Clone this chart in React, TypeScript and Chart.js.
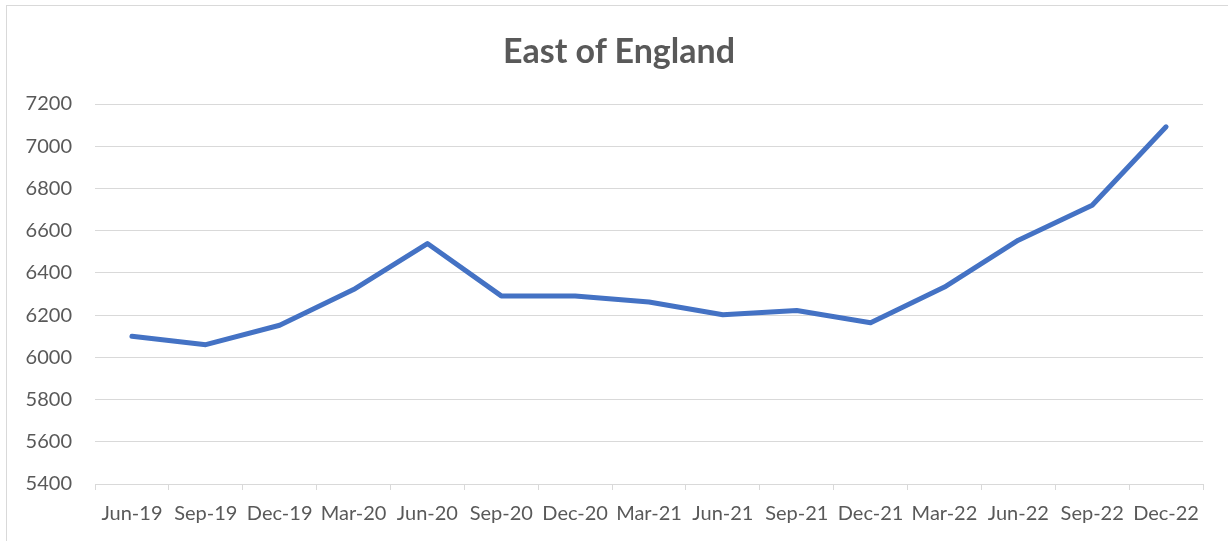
import React, { useEffect, useRef } from "react";
import { Chart, registerables } from "chart.js";

Chart.register(...registerables);

const categories = [
  "Jun-19", "Sep-19", "Dec-19", "Mar-20", "Jun-20", "Sep-20", "Dec-20", "Mar-21",
  "Jun-21", "Sep-21", "Dec-21", "Mar-22", "Jun-22", "Sep-22", "Dec-22",
];
const values = [6100, 6060, 6152, 6321, 6539, 6291, 6290, 6262, 6202, 6222, 6164, 6333, 6555, 6720, 7092];
const titleText = "East of England";
const yMin = 5400;
const yMax = 7200;
const yStep = 200;

const FONT = "Lato, 'Open Sans', sans-serif";

export default function App() {
  const ref = useRef<HTMLCanvasElement | null>(null);
  useEffect(() => {
    if (!ref.current) return;
    const chart = new Chart(ref.current, {
      type: "line",
      data: {
        labels: categories,
        datasets: [
          {
            data: values,
            borderColor: "#4472C4",
            backgroundColor: "#4472C4",
            borderWidth: 5,
            pointRadius: 0,
            borderCapStyle: "round",
            borderJoinStyle: "round",
            tension: 0,
          },
        ],
      },
      options: {
        responsive: false,
        animation: false,
        layout: { padding: { left: 0, right: 25, top: 104, bottom: 0 } },
        plugins: {
          legend: { display: false },
          tooltip: { enabled: false },
          title: { display: false },
        },
        scales: {
          x: {
            offset: true,
            grid: {
              offset: true,
              drawOnChartArea: false,
              drawTicks: true,
              tickLength: 6,
              color: "#d9d9d9",
            },
            border: { display: true, color: "#d9d9d9" },
            ticks: {
              color: "#595959",
              font: { family: FONT, size: 20 },
              padding: 12,
              maxRotation: 0,
              autoSkip: false,
            },
            afterFit: (s: any) => {
              s.height = 57;
            },
          },
          y: {
            min: yMin,
            max: yMax,
            grid: { color: "#d9d9d9", drawTicks: false, lineWidth: 1 },
            border: { display: false },
            ticks: {
              stepSize: yStep,
              color: "#595959",
              font: { family: FONT, size: 20 },
              padding: 23,
              callback: (v: any) => String(v),
            },
            afterFit: (s: any) => {
              s.width = 95;
            },
          },
        },
      },
    });
    return () => chart.destroy();
  }, []);
  return (
    <div
      style={{
        position: "absolute",
        left: 0,
        top: 0,
        width: 1228,
        height: 541,
        overflow: "hidden",
        background: "#fff",
      }}
    >
      <div
        style={{
          position: "absolute",
          left: 6,
          top: 5,
          width: 1300,
          height: 600,
          border: "1px solid #d9d9d9",
        }}
      />
      <canvas
        ref={ref}
        width={1228}
        height={541}
        style={{ position: "absolute", left: 0, top: 0, width: 1228, height: 541 }}
      />
      <div
        style={{
          position: "absolute",
          left: 0,
          top: 30,
          width: 1238,
          height: 40,
          lineHeight: "40px",
          textAlign: "center",
          fontFamily: FONT,
          fontWeight: "bold",
          fontSize: 34,
          color: "#595959",
          whiteSpace: "nowrap",
        }}
      >
        {titleText}
      </div>
    </div>
  );
}
